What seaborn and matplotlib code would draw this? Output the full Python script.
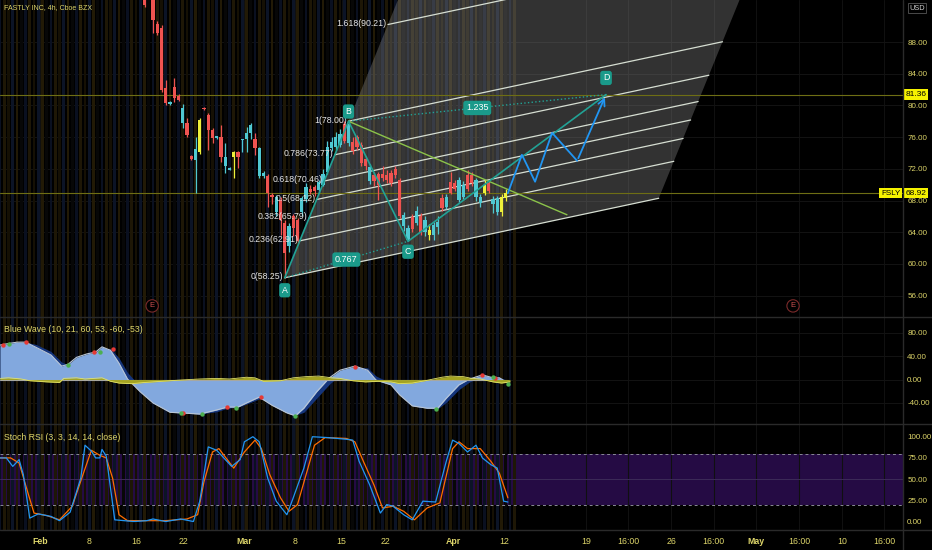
import numpy as np
import pandas as pd
import matplotlib
matplotlib.use("Agg")
import matplotlib.pyplot as plt
import matplotlib.transforms as mtransforms
from matplotlib.lines import Line2D
from matplotlib.patches import Polygon
from matplotlib.ticker import FormatStrFormatter
import seaborn as sns

# ---------------- data ----------------
# 4h candles, first visible one sits at bar 34
candle_start = 34
opens = [93.6, 96.0, 95.5, 90.3, 89.8, 82.2, 80.2, 82.3, 81.2, 77.8,
         77.8, 73.6, 73.1, 74.1, 79.5, 78.8, 76.9, 76.1, 76.0, 72.3,
         72.0, 73.5, 74.1, 75.7, 75.8, 76.5, 75.7, 74.6, 71.1, 71.1,
         68.7, 66.5, 68.1, 65.2, 62.2, 66.0, 65.5, 66.5, 68.2, 69.5,
         69.7, 69.3, 70.0, 71.6, 74.6, 74.7, 75.0, 75.5, 77.6, 74.2,
         76.0, 75.0, 73.2, 72.2, 70.5, 71.3, 71.4, 71.2, 71.5, 72.0,
         70.6, 66.2, 63.0, 64.4, 66.7, 64.0, 65.6, 63.7, 63.6, 64.6,
         67.0, 68.4, 69.0, 70.2, 70.6, 68.5, 69.5, 71.2, 70.6, 67.7,
         69.0, 69.2, 68.2, 66.6, 66.6, 68.3]
highs = [93.8, 97.0, 96.0, 90.6, 90.1, 83.2, 80.5, 83.5, 81.4, 80.2,
         78.4, 73.8, 76.0, 78.4, 79.8, 79.0, 77.1, 76.2, 77.5, 75.3,
         72.2, 74.3, 74.3, 75.8, 77.3, 77.8, 76.5, 74.8, 71.7, 71.3,
         69.0, 68.7, 68.4, 65.5, 65.2, 66.3, 65.8, 68.6, 70.2, 69.9,
         70.0, 70.6, 72.0, 75.5, 76.0, 76.6, 77.0, 78.0, 78.0, 76.0,
         76.3, 75.4, 73.6, 72.6, 71.6, 71.6, 72.4, 71.8, 71.9, 72.3,
         70.9, 66.5, 64.9, 66.3, 67.3, 66.4, 66.0, 65.0, 65.3, 66.0,
         68.8, 68.8, 71.6, 70.6, 71.0, 70.4, 71.8, 71.6, 70.9, 68.8,
         70.6, 70.5, 68.6, 68.6, 68.8, 69.5]
lows = [92.4, 93.8, 89.1, 88.9, 81.7, 80.0, 80.1, 80.4, 80.5, 77.2,
        76.0, 73.1, 69.0, 73.9, 79.4, 74.4, 75.3, 75.8, 72.9, 71.5,
        71.8, 70.9, 72.1, 74.1, 74.1, 75.7, 73.8, 70.9, 70.9, 67.2,
        67.5, 66.0, 63.7, 58.25, 61.5, 63.5, 62.5, 66.0, 67.8, 68.8,
        68.6, 69.0, 69.8, 71.4, 74.2, 74.4, 74.8, 75.2, 74.9, 73.9,
        74.4, 72.3, 71.8, 70.1, 69.8, 68.1, 70.5, 70.2, 69.8, 70.8,
        65.8, 64.2, 62.85, 64.0, 64.9, 63.6, 63.5, 63.0, 63.0, 63.8,
        66.7, 66.9, 68.8, 69.2, 67.8, 68.2, 69.2, 69.8, 68.0, 67.2,
        68.7, 68.9, 66.4, 66.2, 66.0, 68.0]
closes = [92.7, 94.2, 90.8, 89.1, 82.0, 80.3, 80.4, 80.9, 80.7, 79.7,
          76.3, 73.3, 74.5, 78.2, 79.6, 76.9, 75.9, 75.9, 73.5, 73.5,
          71.9, 74.1, 73.5, 75.6, 76.5, 77.5, 74.6, 71.1, 71.5, 69.0,
          68.4, 68.4, 65.6, 61.4, 64.8, 64.5, 62.9, 68.3, 69.7, 69.1,
          69.2, 70.3, 71.4, 74.7, 75.4, 76.0, 76.4, 77.7, 75.2, 75.4,
          74.8, 72.7, 72.3, 70.5, 71.2, 70.0, 70.9, 70.6, 70.2, 71.2,
          66.1, 64.8, 64.5, 65.9, 65.2, 66.0, 64.0, 64.3, 64.9, 65.3,
          68.3, 67.2, 70.3, 69.5, 68.1, 70.0, 71.2, 70.2, 68.5, 68.5,
          70.0, 70.2, 67.5, 68.3, 68.5, 68.92]
candle_kind = list("rrrrrrtrrtrrtyrrrtrttyrtttrttrrtrrtrrttrrttttttrtrrrrtrrrrrrrttrtrtyttrtrrttrrttyrttyy")

# harmonic pattern points (bar, price)
pt_a = (67, 58.25)
pt_b = (82, 78.00)
pt_c = (96, 62.85)
pt_d = (142.6, 81.36)
ratio_ac = "0.767"
ratio_bd = "1.235"
fib_levels = [0, 0.236, 0.382, 0.5, 0.618, 0.786, 1, 1.618]
channel_len = 88        # bars
channel_slope = 0.114   # price per bar
trend_end = (133.4, 66.2)
proj_x = [119.5, 122.8, 125.9, 129.9, 135.8, 142.6]
proj_y = [68.92, 73.77, 70.37, 76.54, 73.01, 81.36]
hlines = [81.36, 68.92]
earnings_bars = [35.8, 186.6]

# Blue Wave indicator
wave_x = [0, 1.5, 4, 6, 8.5, 12, 14.5, 16, 18, 20.5, 22.5, 24, 26, 28, 30, 33,
          36, 40, 42.5, 47, 51, 53.5, 56, 58, 61, 64, 67.5, 69.5, 71.5, 74.5,
          77.5, 80, 83.5, 86.5, 88.5, 92, 94, 97, 100.5, 103, 105, 108, 110.5,
          113.5, 116, 117.5, 119.5]
wave_main = [59, 61, 64, 64, 55, 42, 23, 26, 38, 44, 47, 56, 50, 28, 1, -21,
             -40, -56, -57, -59, -52, -47, -47, -40, -30, -44, -57, -62, -49, -21,
             3, 16, 23, 16, -1, -9, -26, -45, -49, -49, -32, -9, 1,
             8, 3, 3, -6]
wave_signal = [56, 59, 62, 64, 60, 48, 30, 25, 33, 42, 46, 53, 53, 37, 12, -12,
               -34, -52, -56, -59, -55, -49, -47, -42, -33, -38, -53, -61, -56, -32,
               -8, 8, 21, 20, 6, -6, -19, -40, -49, -50, -39, -17, -4,
               6, 5, 4, -2]
yel_x = [0, 2, 5, 7, 11, 14, 15, 18, 20, 22, 24, 26, 28, 31, 34, 38, 42, 47, 51,
         54, 58, 60, 62, 66, 69, 72, 75, 78, 80, 83, 86, 89, 92, 94, 97, 100,
         104, 106, 109, 111, 113, 116, 118, 120]
yel_vals = [2, 3, 1, -2, -4, -5, 2, 3, 1, 2, 3, -3, -6, -7, -5, -3, -1, 1, 2,
            1, 4, 3, -3, -2, 3, 5, 6, 3, 2, -2, -4, -3, -4, -7, -6, -2,
            4, 6, 5, 2, 1, -4, -6, -4]
red_dot_x = [0.7, 6, 22, 26.5, 43, 53.5, 61.5, 83.5, 113.5, 116.5]
red_dot_v = [59, 64, 47, 52, -57, -47, -30, 21, 8, 3]
green_dot_x = [2, 16, 23.5, 42.5, 47.5, 55.5, 69.5, 102.5, 116, 119.5]
green_dot_v = [61, 25, 47, -57, -59, -49, -62, -51, 4, -8]

# Stoch RSI
k_x = [0, 1.5, 3, 4.5, 5.5, 7, 9, 12, 14, 16.5, 19, 20, 21.5, 22.5, 23.5, 24, 25,
       27, 31.5, 34.5, 36, 39, 42.5, 45.5, 47, 49, 51, 54.5, 56.5, 57.5, 59.5, 61,
       63, 65, 67.5, 69, 71.5, 73.5, 77, 81.5, 83, 84.5, 87, 89.5, 91, 92.5, 95,
       97, 99.5, 102.5, 105, 106.5, 108, 110, 112, 113.5, 115.5, 117, 118.5, 119.5]
k_vals = [75, 75, 65, 73, 55, 4, 9, 6, 1, 11, 51, 90, 83, 75, 75, 85, 77,
          2, 0, 1, 3, 0, 3, 0, 24, 88, 84, 65, 73, 94, 100, 94,
          51, 24, 8, 28, 63, 100, 99, 97, 96, 71, 43, 10, 20, 18, 8,
          2, 24, 23, 71, 96, 92, 82, 90, 75, 67, 63, 24, 23]
d_x = [0, 2.5, 4.5, 6.5, 8, 11, 14, 17, 19.5, 21.5, 23.5, 25, 26.5, 28, 30, 35.5,
       39, 44, 46.5, 48, 50, 51.5, 55, 57.5, 60, 61.5, 63.5, 66, 68, 70, 72, 74,
       76.5, 81.5, 83.5, 85.5, 88, 90, 92.5, 95, 97.5, 100.5, 103.5, 106.5, 108,
       110, 113, 115.5, 117.5, 119.5]
d_vals = [75, 75, 69, 35, 10, 7, 2, 18, 55, 84, 78, 75, 51, 8, 1, 1,
          1, 3, 8, 47, 82, 86, 63, 82, 96, 86, 55, 28, 12, 20, 55, 90,
          99, 98, 94, 71, 43, 16, 18, 12, 2, 16, 22, 86, 94,
          86, 86, 71, 57, 28]

tick_bars = [9.4, 20.9, 32.1, 43.1, 57.4, 69.4, 80.4, 90.6, 106.6, 118.7,
             137.9, 147.8, 157.9, 167.9, 177.9, 188.0, 198.1, 208.0]
tick_labels = ["Feb", "8", "16", "22", "Mar", "8", "15", "22", "Apr", "12",
               "19", "16:00", "26", "16:00", "May", "16:00", "10", "16:00"]

# ---------------- style ----------------
sns.set_theme(style="dark", rc={"axes.facecolor": "black", "figure.facecolor": "black"})
plt.rcParams["font.family"] = ["Liberation Sans", "DejaVu Sans"]
plt.rcParams["axes.unicode_minus"] = False

TXT = "#ddd56a"
RED = "#ef5350"
TEAL_C = "#4fc8d2"
YEL_C = "#eef03a"
PAT = "#22a295"
FW, FH = 932, 550
W = 903 / FW

fig = plt.figure(figsize=(9.32, 5.5), dpi=100)
ax1 = fig.add_axes([0, 1 - 317 / FH, W, 317 / FH])
ax2 = fig.add_axes([0, 1 - 424 / FH, W, 107 / FH], sharex=ax1)
ax3 = fig.add_axes([0, 1 - 530 / FH, W, 106 / FH], sharex=ax1)

n_stripe = candle_start + len(opens) + 2
stripe_cols = ["#0a1020", "#1e1706", "#151004", "#0c1426", "#221a06", "#070707"]
for ax in (ax1, ax2, ax3):
    ax.set_facecolor("black")
    for s in ax.spines.values():
        s.set_visible(False)
    ax.grid(False)
    for b in range(n_stripe):
        ax.axvspan(b - 0.3, b + 0.3, color=stripe_cols[b % len(stripe_cols)], lw=0, zorder=0.5)
    for t in tick_bars:
        ax.axvline(t, color="#101010", lw=0.8, zorder=0.2)
    ax.yaxis.tick_right()
    ax.tick_params(axis="y", colors=TXT, labelsize=5.8, length=0, pad=3)
    ax.tick_params(axis="x", length=0)

ax1.set_xlim(0, 903 / 4.25)

# ---------------- main price panel ----------------
ax1.set_ylim(53.3, 93.3)
ax1.set_yticks(np.arange(56, 89, 4))
ax1.yaxis.set_major_formatter(FormatStrFormatter("%.2f"))
for v in np.arange(56, 89, 4):
    ax1.axhline(v, color="#121212", lw=0.8, zorder=0.3)

# fib channel
ab = np.array([pt_b[0] - pt_a[0], pt_b[1] - pt_a[1]])
ac = np.array([channel_len, channel_len * channel_slope])
a = np.array(pt_a)
poly = Polygon([a, a + ac, a + ac + 3 * ab, a + 3 * ab], closed=True,
               facecolor="#8c8c8c", alpha=0.36, edgecolor="none", zorder=1)
ax1.add_patch(poly)
for lv in fib_levels:
    p0 = a + lv * ab
    p1 = p0 + ac
    ax1.plot([p0[0], p1[0]], [p0[1], p1[1]], color="#d6ded2", lw=0.9, zorder=2)
    ax1.text(p0[0] - 0.3, p0[1] + 0.15, f"{lv:g}({p0[1]:.2f})", ha="right", va="center",
             color="#e6e6e6", fontsize=6.3, zorder=6)

# candles
bars = np.arange(len(opens)) + candle_start
cmap = {"r": RED, "t": TEAL_C, "y": YEL_C}
cols = [cmap[k] for k in candle_kind]
o = np.array(opens)
c = np.array(closes)
ax1.vlines(bars, lows, highs, colors=cols, lw=0.9, zorder=3)
ax1.bar(bars, np.maximum(np.abs(c - o), 0.15), bottom=np.minimum(o, c), width=0.75,
        color=cols, linewidth=0, zorder=3)

# horizontal price lines
for h in hlines:
    ax1.axhline(h, color="#6e6e14", lw=0.8, zorder=2.5)

# trend line from B
ax1.plot([pt_b[0], trend_end[0]], [pt_b[1], trend_end[1]], color="#8bc34a", lw=1.0, zorder=4)

# ABCD pattern
ax1.plot([pt_a[0], pt_b[0], pt_c[0], pt_d[0]], [pt_a[1], pt_b[1], pt_c[1], pt_d[1]],
         color=PAT, lw=1.2, zorder=4)
ax1.plot([pt_a[0], pt_c[0]], [pt_a[1], pt_c[1]], color=PAT, lw=1.0, ls=":", zorder=4)
ax1.plot([pt_b[0], pt_d[0]], [pt_b[1], pt_d[1]], color=PAT, lw=1.0, ls=":", zorder=4)

# blue projection
ax1.plot(proj_x[:-1], proj_y[:-1], color="#2196f3", lw=1.3, zorder=5)
ax1.annotate("", xy=(proj_x[-1], proj_y[-1]), xytext=(proj_x[-2], proj_y[-2]),
             arrowprops=dict(arrowstyle="->", color="#2196f3", lw=1.3), zorder=5)

box = dict(boxstyle="round,pad=0.3", fc="#1a9a8a", ec="none")
for name, pt, dy in [("A", pt_a, -9), ("B", pt_b, 7), ("C", pt_c, -7.5), ("D", pt_d, 12)]:
    ax1.annotate(name, xy=pt, xytext=(0, dy), textcoords="offset points", ha="center",
                 va="center", color="white", fontsize=6.3, bbox=box, zorder=7)
ax1.text((pt_a[0] + pt_c[0]) / 2, (pt_a[1] + pt_c[1]) / 2, ratio_ac, ha="center", va="center",
         color="white", fontsize=6.5, bbox=box, zorder=7)
ax1.text((pt_b[0] + pt_d[0]) / 2, (pt_b[1] + pt_d[1]) / 2, ratio_bd, ha="center", va="center",
         color="white", fontsize=6.5, bbox=box, zorder=7)

# earnings markers
btr = mtransforms.blended_transform_factory(ax1.transData, ax1.transAxes)
for e in earnings_bars:
    ax1.text(e, 0.035, "E", transform=btr, ha="center", va="center", color="#d05050",
             fontsize=5.5, bbox=dict(boxstyle="circle,pad=0.35", fc="black", ec="#7a2a2a", lw=0.8),
             zorder=7)

# price labels on the axis
ytr = ax1.get_yaxis_transform()
ybox = dict(boxstyle="square,pad=0.2", fc="#f5f200", ec="none")
for h in hlines:
    ax1.text(1.003, h, f"{h:.2f}", transform=ytr, ha="left", va="center", color="black",
             fontsize=6.0, bbox=ybox, clip_on=False, zorder=10)
ax1.text(0.997, hlines[1], "FSLY", transform=ytr, ha="right", va="center", color="black",
         fontsize=5.8, bbox=ybox, clip_on=False, zorder=10)

# ---------------- Blue Wave panel ----------------
ax2.set_ylim(-76, 107)
ax2.set_yticks([80, 40, 0, -40])
ax2.yaxis.set_major_formatter(FormatStrFormatter("%.2f"))
for v in [80, 40, 0, -40]:
    ax2.axhline(v, color="#121212", lw=0.8, zorder=0.3)
ax2.fill_between(wave_x, 0, wave_signal, color="#15357c", lw=0, zorder=1.8)
ax2.fill_between(wave_x, 0, wave_main, color="#82a8de", lw=0, zorder=2)
wave_df = pd.DataFrame({"bar": wave_x, "value": wave_main})
sns.lineplot(data=wave_df, x="bar", y="value", ax=ax2, color="#b9c6d6", lw=0.8, zorder=2.2)
ax2.plot([0, wave_x[-1]], [0, 0], color="#a8a8a8", lw=0.8, zorder=2.4)
ax2.fill_between(yel_x, 0, yel_vals, color="#a3a322", lw=0, zorder=3)
ax2.plot(yel_x, yel_vals, color="#e2e26a", lw=0.6, zorder=3.1)
ax2.scatter(red_dot_x, red_dot_v, s=10, color="#e53935", zorder=4, linewidths=0)
ax2.scatter(green_dot_x, green_dot_v, s=10, color="#4caf50", zorder=4, linewidths=0)
ax2.set_xlabel("")
ax2.set_ylabel("")

# ---------------- Stoch RSI panel ----------------
ax3.set_ylim(-10, 115)
ax3.set_yticks([100, 75, 50, 25, 0])
ax3.yaxis.set_major_formatter(FormatStrFormatter("%.2f"))
ax3.axhspan(20, 80, color="#250b44", lw=0, zorder=0.1)
for v in [80, 20]:
    ax3.axhline(v, color="#8a8a96", lw=0.7, ls=(0, (3, 3)), zorder=1)
ax3.axhline(50, color="#3c2a58", lw=0.7, zorder=1)
k_df = pd.DataFrame({"bar": k_x, "value": k_vals})
d_df = pd.DataFrame({"bar": d_x, "value": d_vals})
sns.lineplot(data=d_df, x="bar", y="value", ax=ax3, color="#ff6d00", lw=0.9, zorder=3)
sns.lineplot(data=k_df, x="bar", y="value", ax=ax3, color="#2196f3", lw=0.9, zorder=3)
ax3.set_xlabel("")
ax3.set_ylabel("")

ax3.set_xticks(tick_bars)
ax3.set_xticklabels(tick_labels)
ax3.tick_params(axis="x", colors=TXT, labelsize=6.3, pad=5)
for lab in ax3.get_xticklabels():
    if lab.get_text() in ("Feb", "Mar", "Apr", "May"):
        lab.set_fontweight("bold")
ax1.tick_params(labelbottom=False)
ax2.tick_params(labelbottom=False)

# ---------------- frame, titles ----------------
for yy in (317, 424, 530):
    fig.add_artist(Line2D([0, 1], [1 - yy / FH] * 2, color="#2a2a2a", lw=1))
fig.add_artist(Line2D([W, W], [0, 1], color="#2a2a2a", lw=1))

fig.text(4 / FW, 1 - 8 / FH, "FASTLY INC, 4h, Cboe BZX", color=TXT, fontsize=5.0, va="center")
fig.text(4 / FW, 1 - 330 / FH, "Blue Wave (10, 21, 60, 53, -60, -53)", color=TXT, fontsize=6.3, va="center")
fig.text(4 / FW, 1 - 437 / FH, "Stoch RSI (3, 3, 14, 14, close)", color=TXT, fontsize=6.3, va="center")
fig.text(917 / FW, 1 - 8 / FH, "USD", color="#cfcfcf", fontsize=5.3, ha="center", va="center",
         bbox=dict(boxstyle="square,pad=0.2", fc="black", ec="#555555", lw=0.6))

fig.savefig("out.png", dpi=100, facecolor="black")
